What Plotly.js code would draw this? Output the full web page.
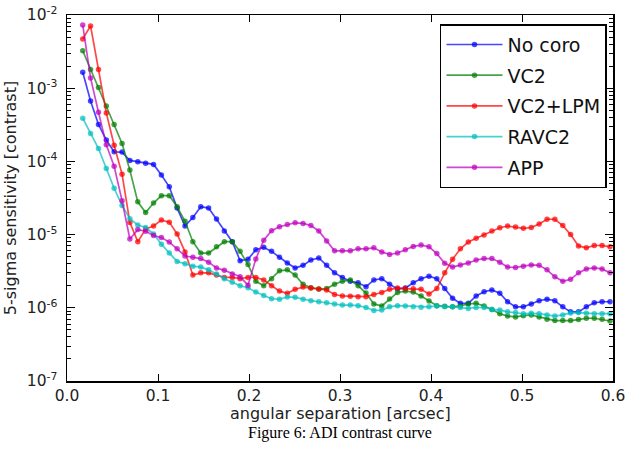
<!DOCTYPE html>
<html>
<head>
<meta charset="utf-8">
<script src="https://cdn.plot.ly/plotly-3.0.1.min.js"></script>
<style>
  html, body { margin: 0; padding: 0; background: #fff; }
  #chart { width: 625px; height: 449px; }
</style>
</head>
<body>
<div id="chart"></div>
<script>
// Angular separation of each sample [arcsec]
const separation = [
  0.0173, 0.0259, 0.0346, 0.0432, 0.0518, 0.0605, 0.0691, 0.0778, 0.0864, 0.0951,
  0.1037, 0.1124, 0.1210, 0.1297, 0.1383, 0.1470, 0.1556, 0.1643, 0.1729, 0.1816,
  0.1902, 0.1989, 0.2075, 0.2162, 0.2248, 0.2335, 0.2421, 0.2507, 0.2594, 0.2680,
  0.2767, 0.2853, 0.2940, 0.3026, 0.3113, 0.3199, 0.3286, 0.3372, 0.3459, 0.3545,
  0.3632, 0.3718, 0.3805, 0.3891, 0.3978, 0.4064, 0.4151, 0.4237, 0.4323, 0.4410,
  0.4496, 0.4583, 0.4669, 0.4756, 0.4842, 0.4929, 0.5015, 0.5102, 0.5188, 0.5275,
  0.5361, 0.5448, 0.5534, 0.5621, 0.5707, 0.5794, 0.5880, 0.5967
];

// 5-sigma contrast for each configuration
const noCoro = [
  1.65e-3, 6.7e-4, 3.2e-4, 1.96e-4, 1.35e-4, 1.34e-4, 1.03e-4, 9.9e-5, 9.4e-5, 9.1e-5,
  6.5e-5, 4.5e-5, 2.3e-5, 1.31e-5, 1.71e-5, 2.4e-5, 2.3e-5, 1.63e-5, 1.12e-5, 8.0e-6,
  4.4e-6, 4.6e-6, 6.2e-6, 6.7e-6, 5.9e-6, 4.9e-6, 4.1e-6, 3.5e-6, 3.8e-6, 4.5e-6,
  4.8e-6, 3.8e-6, 3.0e-6, 2.6e-6, 2.3e-6, 2.2e-6, 1.94e-6, 2.4e-6, 2.5e-6, 2.1e-6,
  1.81e-6, 1.86e-6, 2.2e-6, 2.5e-6, 2.7e-6, 2.5e-6, 1.84e-6, 1.35e-6, 1.15e-6, 1.15e-6,
  1.45e-6, 1.66e-6, 1.75e-6, 1.58e-6, 1.21e-6, 1.03e-6, 1.03e-6, 1.13e-6, 1.25e-6, 1.31e-6,
  1.25e-6, 1.03e-6, 8.8e-7, 8.8e-7, 1.03e-6, 1.17e-6, 1.21e-6, 1.21e-6
];
const vc2 = [
  3.25e-3, 1.8e-3, 1.02e-3, 5.7e-4, 3.2e-4, 1.76e-4, 7.6e-5, 2.8e-5, 2.0e-5, 2.7e-5,
  3.4e-5, 3.4e-5, 2.4e-5, 1.52e-5, 8.0e-6, 5.6e-6, 5.6e-6, 6.8e-6, 8.0e-6, 8.0e-6,
  5.9e-6, 3.9e-6, 2.3e-6, 2.0e-6, 2.5e-6, 3.2e-6, 3.3e-6, 2.8e-6, 2.1e-6, 1.88e-6,
  1.81e-6, 1.83e-6, 2.1e-6, 2.3e-6, 2.4e-6, 2.0e-6, 1.59e-6, 1.13e-6, 1.06e-6, 1.32e-6,
  1.62e-6, 1.69e-6, 1.64e-6, 1.45e-6, 1.24e-6, 1.07e-6, 1.05e-6, 1.03e-6, 1.06e-6, 1.13e-6,
  1.15e-6, 1.06e-6, 9.5e-7, 8.3e-7, 7.7e-7, 7.5e-7, 7.8e-7, 8.0e-7, 7.5e-7, 7.0e-7,
  6.7e-7, 6.7e-7, 6.7e-7, 6.9e-7, 7.2e-7, 7.2e-7, 6.95e-7, 6.6e-7
];
const vc2Lpm = [
  4.7e-3, 7.1e-3, 1.8e-3, 4.6e-4, 1.66e-4, 6.7e-5, 1.46e-5, 8.0e-6, 1.19e-5, 1.31e-5,
  1.58e-5, 1.48e-5, 1.02e-5, 5.8e-6, 2.8e-6, 3.0e-6, 3.0e-6, 2.8e-6, 2.6e-6, 2.6e-6,
  2.5e-6, 2.6e-6, 2.6e-6, 2.4e-6, 2.0e-6, 1.69e-6, 1.58e-6, 1.79e-6, 1.92e-6, 1.86e-6,
  1.81e-6, 1.75e-6, 1.52e-6, 1.45e-6, 1.44e-6, 1.42e-6, 1.42e-6, 1.52e-6, 1.62e-6, 1.79e-6,
  1.86e-6, 1.83e-6, 1.82e-6, 1.79e-6, 1.54e-6, 1.83e-6, 3.0e-6, 4.6e-6, 6.4e-6, 7.9e-6,
  8.9e-6, 9.9e-6, 1.12e-5, 1.24e-5, 1.31e-5, 1.27e-5, 1.22e-5, 1.25e-5, 1.40e-5, 1.62e-5,
  1.62e-5, 1.33e-5, 1.0e-5, 7.0e-6, 6.6e-6, 7.1e-6, 7.1e-6, 6.8e-6
];
const ravc2 = [
  3.9e-4, 2.4e-4, 1.5e-4, 8.0e-5, 4.3e-5, 2.5e-5, 1.65e-5, 1.35e-5, 1.25e-5, 1.02e-5,
  7.4e-6, 5.6e-6, 4.3e-6, 4.0e-6, 3.7e-6, 3.6e-6, 3.3e-6, 2.9e-6, 2.5e-6, 2.24e-6,
  2.0e-6, 1.88e-6, 1.64e-6, 1.47e-6, 1.33e-6, 1.31e-6, 1.41e-6, 1.39e-6, 1.31e-6, 1.25e-6,
  1.21e-6, 1.17e-6, 1.13e-6, 1.09e-6, 1.09e-6, 1.07e-6, 1.01e-6, 9.2e-7, 9.3e-7, 1.03e-6,
  1.07e-6, 1.06e-6, 1.03e-6, 1.02e-6, 1.03e-6, 1.06e-6, 1.03e-6, 1.03e-6, 1.01e-6, 9.8e-7,
  1.01e-6, 1.01e-6, 9.5e-7, 9.3e-7, 8.8e-7, 8.6e-7, 8.3e-7, 8.4e-7, 8.3e-7, 8.0e-7,
  7.7e-7, 8.0e-7, 8.5e-7, 8.6e-7, 8.4e-7, 8.3e-7, 8.3e-7, 8.3e-7
];
const app = [
  7.3e-3, 1.38e-3, 4.7e-4, 1.69e-4, 8.6e-5, 2.9e-5, 8.7e-6, 1.17e-5, 1.11e-5, 9.7e-6,
  9.1e-6, 7.9e-6, 6.4e-6, 5.1e-6, 4.9e-6, 4.7e-6, 4.2e-6, 3.5e-6, 3.25e-6, 2.9e-6,
  2.65e-6, 2.04e-6, 4.65e-6, 8.4e-6, 1.13e-5, 1.28e-5, 1.37e-5, 1.45e-5, 1.42e-5, 1.33e-5,
  1.12e-5, 8.2e-6, 6.0e-6, 6.0e-6, 6.0e-6, 6.4e-6, 6.4e-6, 6.6e-6, 5.8e-6, 5.35e-6,
  5.6e-6, 6.2e-6, 6.9e-6, 7.2e-6, 6.8e-6, 5.5e-6, 4.05e-6, 3.6e-6, 3.85e-6, 4.1e-6,
  4.5e-6, 4.7e-6, 4.7e-6, 4.2e-6, 3.6e-6, 3.55e-6, 3.7e-6, 3.85e-6, 3.8e-6, 3.3e-6,
  2.65e-6, 2.3e-6, 2.45e-6, 3.0e-6, 3.4e-6, 3.5e-6, 3.4e-6, 3.0e-6
];

const seriesNames = ['No coro', 'VC2', 'VC2+LPM', 'RAVC2', 'APP'];
const seriesValues = [noCoro, vc2, vc2Lpm, ravc2, app];
const seriesColors = [
  'rgba(0,0,255,0.72)', 'rgba(0,128,0,0.72)', 'rgba(255,0,0,0.72)',
  'rgba(0,191,191,0.72)', 'rgba(191,0,191,0.72)'
];

// Axis ticks
const xTickVals = [0.0, 0.1, 0.2, 0.3, 0.4, 0.5, 0.6];
const xTickText = ['0.0', '0.1', '0.2', '0.3', '0.4', '0.5', '0.6'];
const yTickVals = [1e-7, 1e-6, 1e-5, 1e-4, 1e-3, 1e-2];
const yTickText = ['10<sup>-7</sup>', '10<sup>-6</sup>', '10<sup>-5</sup>',
                   '10<sup>-4</sup>', '10<sup>-3</sup>', '10<sup>-2</sup>'];
const yMinorVals = [];
for (let e = -7; e < -2; e++) {
  for (let m = 2; m <= 9; m++) yMinorVals.push(m * Math.pow(10, e));
}

const traces = seriesNames.map((name, k) => ({
  type: 'scatter',
  mode: 'lines+markers',
  name: name,
  legendgroup: name,
  x: separation,
  y: seriesValues[k],
  line: { color: seriesColors[k], width: 1.7 },
  marker: { color: seriesColors[k], size: 5.5, line: { width: 0 } }
}));

const tickFont = { family: 'DejaVu Sans, sans-serif', size: 15.5, color: '#222' };
const titleFont = { family: 'DejaVu Sans, sans-serif', size: 16, color: '#222' };

const layout = {
  width: 625,
  height: 449,
  margin: { l: 67, r: 12, t: 15, b: 68 },
  paper_bgcolor: '#fff',
  plot_bgcolor: '#fff',
  font: tickFont,
  showlegend: true,
  legend: {
    x: 0.989, xanchor: 'right',
    y: 0.975, yanchor: 'top',
    bgcolor: '#fff',
    bordercolor: '#000',
    borderwidth: 1.5,
    tracegroupgap: 3,
    itemwidth: 56,
    font: { family: 'DejaVu Sans, sans-serif', size: 19, color: '#111' }
  },
  xaxis: {
    range: [0, 0.6],
    tickvals: xTickVals,
    ticktext: xTickText,
    ticks: 'inside',
    ticklen: 7,
    tickwidth: 1,
    tickcolor: '#000',
    showline: true,
    linecolor: '#000',
    linewidth: 1.5,
    mirror: 'allticks',
    showgrid: false,
    zeroline: false,
    ticklabelstandoff: 0,
    ticklabeloverflow: 'allow',
    tickfont: tickFont
  },
  yaxis: {
    type: 'log',
    range: [-7, -2],
    tickvals: yTickVals,
    ticktext: yTickText,
    ticks: 'inside',
    ticklen: 8,
    tickwidth: 1,
    tickcolor: '#000',
    minor: { tickvals: yMinorVals, ticks: 'inside', ticklen: 4, tickwidth: 1, tickcolor: '#000', showgrid: false },
    showline: true,
    linecolor: '#000',
    linewidth: 1.5,
    mirror: 'allticks',
    showgrid: false,
    zeroline: false,
    ticklabelstandoff: 5,
    tickfont: tickFont,
    title: { text: '5-sigma sensitivity [contrast]', font: titleFont, standoff: 6 }
  },
  annotations: [
    {
      // x-axis title, placed just under the tick labels
      text: 'angular separation [arcsec]',
      xref: 'paper', yref: 'paper',
      x: 0.5, y: -0.088,
      xanchor: 'center', yanchor: 'middle',
      showarrow: false,
      font: titleFont
    },
    {
      text: 'Figure 6: ADI contrast curve',
      xref: 'paper', yref: 'paper',
      x: 0.5, y: -0.142,
      xanchor: 'center', yanchor: 'middle',
      showarrow: false,
      font: { family: 'Liberation Serif, serif', size: 16, color: '#000' }
    }
  ]
};

Plotly.newPlot('chart', traces, layout, { staticPlot: true, displayModeBar: false });
</script>
</body>
</html>
